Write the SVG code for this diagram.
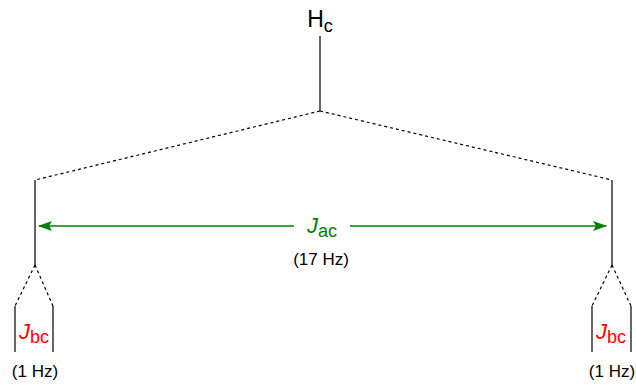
<svg xmlns="http://www.w3.org/2000/svg" width="636" height="385" viewBox="0 0 636 385">
<style>
.solid{stroke:#000;stroke-width:1.2;fill:none}
.dash{stroke:#000;stroke-width:1.2;fill:none;stroke-dasharray:3,3}
.t{font-family:"Liberation Sans",Arial,sans-serif;fill:#000}
.red{fill:#ff0000}
.green{fill:#008000}
</style>
<defs>
<marker id="ah" viewBox="0 0 14 10" refX="13" refY="5" markerWidth="14" markerHeight="10" markerUnits="userSpaceOnUse" orient="auto-start-reverse">
<path d="M0,0 L14,5 L0,10 L3,5 Z" fill="#008000"/>
</marker>
</defs>
<g id="Hc">
<text class="t" x="320" y="27" font-size="23" text-anchor="middle">H<tspan font-size="18" dy="5">c</tspan></text>
<line class="solid" x1="320" y1="36" x2="320" y2="111"/>
</g>
<g id="left">
<line class="solid" x1="35" y1="180" x2="35" y2="265"/>
<line class="solid" x1="15" y1="306" x2="15" y2="352"/>
<line class="solid" x1="53" y1="306" x2="53" y2="352"/>
<text class="t red" x="34" y="339" font-size="22" text-anchor="middle"><tspan font-style="italic">J</tspan><tspan font-size="18" dy="4">bc</tspan></text>
<text class="t" x="35" y="377" font-size="17" text-anchor="middle">(1 Hz)</text>
</g>
<g id="right">
<line class="solid" x1="612" y1="180" x2="612" y2="265"/>
<line class="solid" x1="592" y1="306" x2="592" y2="352"/>
<line class="solid" x1="631" y1="306" x2="631" y2="352"/>
<text class="t red" x="611" y="339" font-size="22" text-anchor="middle"><tspan font-style="italic">J</tspan><tspan font-size="18" dy="4">bc</tspan></text>
<text class="t" x="612" y="377" font-size="17" text-anchor="middle">(1 Hz)</text>
</g>
<g id="connectors">
<line class="dash" x1="320" y1="111" x2="35" y2="180"/>
<line class="dash" x1="320" y1="111" x2="612" y2="180"/>
<line class="dash" x1="35" y1="265" x2="15" y2="306"/>
<line class="dash" x1="35" y1="265" x2="53" y2="306"/>
<line class="dash" x1="612" y1="265" x2="592" y2="306"/>
<line class="dash" x1="612" y1="265" x2="631" y2="306"/>
<line x1="294" y1="226" x2="39" y2="226" stroke="#008000" stroke-width="1.4" marker-end="url(#ah)"/>
<line x1="350" y1="226" x2="606" y2="226" stroke="#008000" stroke-width="1.4" marker-end="url(#ah)"/>
</g>
<g id="Jac">
<text class="t green" x="322" y="233" font-size="22" text-anchor="middle"><tspan font-style="italic">J</tspan><tspan font-size="18" dy="4">ac</tspan></text>
<text class="t" x="321" y="265" font-size="17" text-anchor="middle">(17 Hz)</text>
</g>
</svg>
